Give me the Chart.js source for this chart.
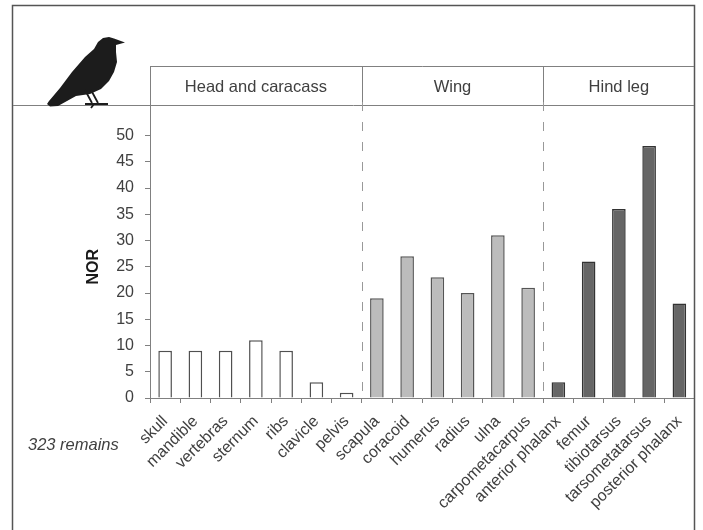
<!DOCTYPE html>
<html>
<head>
<meta charset="utf-8">
<script src="https://cdn.jsdelivr.net/npm/chart.js@4"></script>
<style>
  html, body { margin: 0; padding: 0; background: #fff; }
  #wrap { position: relative; width: 703px; height: 530px; overflow: hidden; }
  #chart { position: absolute; left: 0; top: 0; }
  #bird { position: absolute; left: 0; top: 0; pointer-events: none; }
</style>
</head>
<body>
<div id="wrap">
  <canvas id="chart" width="703" height="530"></canvas>
  <svg id="bird" width="703" height="530" viewBox="0 0 703 530">
    <path fill="#1c1c1c" d="M125 42.5 L116 45 L116 52 L117 62 L114 72 L109 81 L101 89 L90 94 L76 96 L67 101 L58 106 L50 106.5 L47 104 L49 101 L60 88 L72 72 L85 57 L94 49 L98 42 L103 38 L109 37 L114 38.5 Z"/>
    <path stroke="#1c1c1c" stroke-width="1.8" fill="none" d="M85 90 L92 103 M91 90 L98 103 M85 104 L108 104 M94 104 L91 108"/>
  </svg>
</div>
<script>
const categories = ['skull', 'mandible', 'vertebras', 'sternum', 'ribs', 'clavicle', 'pelvis',
  'scapula', 'coracoid', 'humerus', 'radius', 'ulna', 'carpometacarpus',
  'anterior phalanx', 'femur', 'tibiotarsus', 'tarsometatarsus', 'posterior phalanx']
const values = [9, 9, 9, 11, 9, 3, 1, 19, 27, 23, 20, 31, 21, 3, 26, 36, 48, 18]
const groupNames = ['Head and caracass', 'Wing', 'Hind leg']
const groupSizes = [7, 6, 5]
const groupFills = ['#ffffff', '#bcbcbc', '#666666']
const groupBorders = ['#505050', '#555555', '#333333']
const remainsLabel = '323 remains'

const lineColor = '#808080'
const textColor = '#404040'
const fontFamily = '"Liberation Sans", Arial, sans-serif'

// One colour per bar, taken from the group it belongs to
const barFills = []
const barBorders = []
groupSizes.forEach((size, g) => {
  for (let i = 0; i < size; i++) {
    barFills.push(groupFills[g])
    barBorders.push(groupBorders[g])
  }
})

// Frame, header strip, group names and dashed dividers
const headerPlugin = {
  id: 'header',
  beforeDatasetsDraw(chart) {
    const { ctx, scales: { x, y } } = chart
    const left = Math.round(x.left) + 0.5
    const right = x.right
    const stripTop = 66
    const stripBottom = 105
    const zero = y.getPixelForValue(0)

    ctx.save()
    ctx.strokeStyle = '#555555'
    ctx.lineWidth = 1.5
    ctx.beginPath()
    ctx.moveTo(12.5, 530)
    ctx.lineTo(12.5, 5.5)
    ctx.lineTo(694.5, 5.5)
    ctx.lineTo(694.5, 530)
    ctx.stroke()

    ctx.strokeStyle = lineColor
    ctx.lineWidth = 1
    ctx.beginPath()
    ctx.moveTo(13, stripBottom + 0.5)
    ctx.lineTo(694, stripBottom + 0.5)
    ctx.moveTo(left, stripTop + 0.5)
    ctx.lineTo(694, stripTop + 0.5)
    ctx.moveTo(left, stripTop)
    ctx.lineTo(left, y.top)
    ctx.stroke()

    ctx.font = '16.5px ' + fontFamily
    ctx.fillStyle = textColor
    ctx.textAlign = 'center'
    ctx.textBaseline = 'middle'
    let start = 0
    groupSizes.forEach((size, g) => {
      const x0 = x.left + (right - x.left) * start / categories.length
      const x1 = x.left + (right - x.left) * (start + size) / categories.length
      ctx.fillText(groupNames[g], (x0 + x1) / 2, 87)
      if (g > 0) {
        const divider = Math.round(x0) + 0.5
        ctx.strokeStyle = lineColor
        ctx.setLineDash([])
        ctx.beginPath()
        ctx.moveTo(divider, stripTop)
        ctx.lineTo(divider, stripBottom)
        ctx.stroke()
        ctx.setLineDash([9, 11])
        ctx.strokeStyle = '#999999'
        ctx.beginPath()
        ctx.moveTo(divider, stripBottom - 3)
        ctx.lineTo(divider, zero)
        ctx.stroke()
      }
      start += size
    })

    ctx.setLineDash([])
    ctx.font = 'italic 16.5px ' + fontFamily
    ctx.textAlign = 'left'
    ctx.fillText(remainsLabel, 28, 445)
    ctx.restore()
  }
}

new Chart(document.getElementById('chart'), {
  type: 'bar',
  data: {
    labels: categories,
    datasets: [{
      data: values,
      backgroundColor: barFills,
      borderColor: barBorders,
      borderWidth: 1.5,
      barPercentage: 0.45,
      categoryPercentage: 1
    }]
  },
  options: {
    responsive: false,
    animation: false,
    layout: { padding: { left: 0, top: 135.5, right: 8.5, bottom: 0 } },
    plugins: {
      legend: { display: false },
      tooltip: { enabled: false }
    },
    scales: {
      x: {
        afterFit(scale) { scale.height = 132 },
        grid: { drawOnChartArea: false, color: lineColor, tickLength: 5 },
        border: { color: lineColor },
        ticks: {
          autoSkip: false,
          maxRotation: 45,
          minRotation: 45,
          padding: 9,
          color: textColor,
          font: { family: fontFamily, size: 16 }
        }
      },
      y: {
        min: 0,
        max: 50,
        afterFit(scale) { scale.width = 150 },
        grid: { drawOnChartArea: false, color: lineColor, tickLength: 5 },
        border: { color: lineColor },
        title: {
          display: true,
          text: 'NOR',
          color: '#1a1a1a',
          padding: { top: 84, bottom: 0 },
          font: { family: fontFamily, size: 16, weight: 'bold' }
        },
        ticks: {
          stepSize: 5,
          padding: 11,
          color: textColor,
          font: { family: fontFamily, size: 16 }
        }
      }
    }
  },
  plugins: [headerPlugin]
})
</script>
</body>
</html>
